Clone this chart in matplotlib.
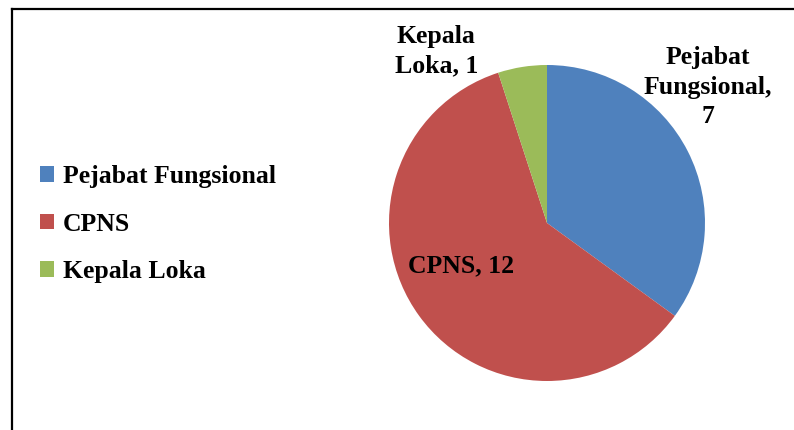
import matplotlib
matplotlib.use("Agg")
import matplotlib.pyplot as plt
from matplotlib.lines import Line2D
from matplotlib.patches import Patch

categories = ["Pejabat Fungsional", "CPNS", "Kepala Loka"]
values = [7, 12, 1]
colors = ["#4F81BD", "#C0504D", "#9BBB59"]
slice_labels = ["Pejabat\nFungsional,\n7", "CPNS, 12", "Kepala\nLoka, 1"]
label_pos = [(1.02, 0.86), (-0.545, -0.27), (-0.70, 1.085)]

W, H = 794, 430
plt.rcParams["font.family"] = ["Liberation Serif"]
fig = plt.figure(figsize=(W / 100, H / 100), dpi=100)

# outer frame: left and top edges only
fig.add_artist(Line2D([12 / W, 12 / W], [0, 1 - 9 / H], color="black", lw=1.6))
fig.add_artist(Line2D([12 / W, 1], [1 - 9 / H, 1 - 9 / H], color="black", lw=1.6))

cx, cy, r = 547, 223, 158
ax = fig.add_axes([(cx - r) / W, (H - cy - r) / H, 2 * r / W, 2 * r / H])
wedges, _ = ax.pie(values, colors=colors, startangle=90, counterclock=False,
                   radius=1, wedgeprops=dict(linewidth=0))
ax.set_xlim(-1, 1)
ax.set_ylim(-1, 1)
ax.set_aspect("equal")

for text, (x, y) in zip(slice_labels, label_pos):
    ax.text(x, y, text, ha="center", va="center", fontsize=18.5, fontweight="bold",
            linespacing=1.35, clip_on=False)

handles = [Patch(facecolor=c, edgecolor="none") for c in colors]
fig.legend(handles, categories, loc="center left", bbox_to_anchor=(17 / W, 1 - 224 / H),
           frameon=False, prop=dict(weight="bold", size=18.5),
           handlelength=0.55, handleheight=0.55, handletextpad=0.35, labelspacing=0.95)

fig.savefig("out.png", dpi=100)
